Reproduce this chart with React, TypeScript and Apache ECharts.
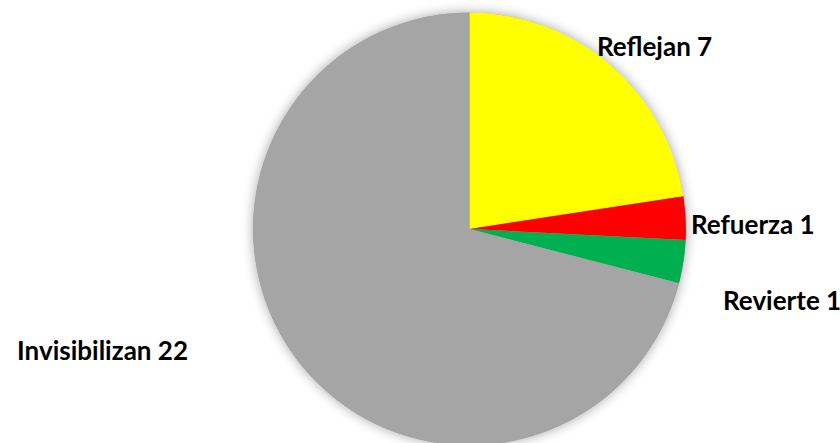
import React, { useEffect, useRef } from "react";
import * as echarts from "echarts";

const categories = ["Reflejan", "Refuerza", "Revierte", "Invisibilizan"];
const values = [7, 1, 1, 22];
const colors = ["#FFFF00", "#FF0000", "#00B050", "#A5A5A5"];
// label anchor (x, vertical middle y, alignment) per slice
const labelAnchors: [number, number, "left" | "right"][] = [
  [597, 46, "left"],
  [691, 224, "left"],
  [723, 300, "left"],
  [188, 350, "right"],
];

export default function App() {
  const ref = useRef<HTMLDivElement>(null);
  useEffect(() => {
    if (!ref.current) return;
    const chart = echarts.init(ref.current, null, { renderer: "svg" });
    const total = values.reduce((a, b) => a + b, 0);
    chart.setOption({
      animation: false,
      backgroundColor: "#FFFFFF",
      series: [
        {
          type: "pie",
          silent: true,
          center: [469.5, 229],
          radius: 216.5,
          z: 1,
          label: { show: false },
          labelLine: { show: false },
          data: [
            {
              value: total,
              itemStyle: {
                color: "#A5A5A5",
                shadowBlur: 12,
                shadowColor: "rgba(0,0,0,0.35)",
                shadowOffsetX: 0,
                shadowOffsetY: 0,
              },
            },
          ],
        },
        {
          type: "pie",
          center: [469.5, 229],
          radius: 216.5,
          startAngle: 90,
          clockwise: true,
          z: 2,
          itemStyle: { borderWidth: 0 },
          label: {
            show: true,
            formatter: (p: any) => `${p.name} ${p.value}`,
            fontFamily: "Lato",
            fontWeight: "bold",
            fontSize: 26,
            color: "#000000",
            overflow: "none",
          },
          labelLine: { show: false },
          labelLayout: (p: any) => {
            const a = labelAnchors[p.dataIndex];
            return { x: a[0], y: a[1], align: a[2], verticalAlign: "middle" };
          },
          data: categories.map((c, i) => ({
            name: c,
            value: values[i],
            itemStyle: { color: colors[i] },
          })),
        },
      ],
    });
    return () => chart.dispose();
  }, []);
  return (
    <div
      ref={ref}
      style={{ position: "fixed", left: 0, top: 0, width: 840, height: 443 }}
    />
  );
}
